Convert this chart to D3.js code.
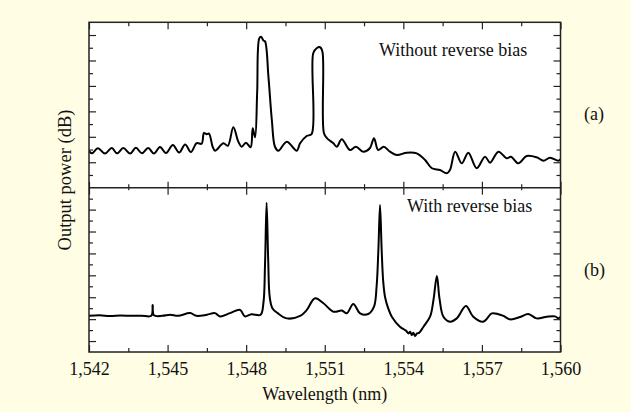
<!DOCTYPE html>
<html>
<head>
<meta charset="utf-8">
<script src="https://cdn.jsdelivr.net/npm/d3@7"></script>
<style>
  body { margin: 0; background: #fffde3; }
  svg { display: block; }
  text { font-family: "Liberation Serif", "Times New Roman", serif; fill: #111; }
</style>
</head>
<body>
<svg id="chart"></svg>
<script>
// wavelength ticks (nm)
const xMajor = [1542, 1545, 1548, 1551, 1554, 1557, 1560];
const xMinor = [1543.5, 1546.5, 1549.5, 1552.5, 1555.5, 1558.5];

// y ticks, arbitrary dB units (no labels on the original)
const yTopMajor = [2, 4, 6, 8, 10, 12];
const yTopMinor = [1, 3, 5, 7, 9, 11];
const yBotMajor = [1, 3, 5, 7, 9, 11, 13];
const yBotMinor = [2, 4, 6, 8, 10, 12, 14];

// (a) without reverse bias
const topWl = [1542.00, 1542.11, 1542.34, 1542.61, 1542.87, 1543.07, 1543.31, 1543.57, 1543.79, 1544.02,
  1544.26, 1544.48, 1544.71, 1544.94, 1545.20, 1545.44, 1545.67, 1545.89, 1546.11, 1546.30,
  1546.39, 1546.49, 1546.58, 1546.72, 1546.81, 1547.13, 1547.30, 1547.51, 1547.70, 1547.83,
  1547.99, 1548.17, 1548.25, 1548.34, 1548.42, 1548.50, 1548.57, 1548.66, 1548.72, 1548.85,
  1548.98, 1549.10, 1549.23, 1549.55, 1549.93, 1550.06, 1550.31, 1550.50, 1550.56, 1550.69,
  1550.82, 1550.91, 1550.97, 1551.09, 1551.33, 1551.46, 1551.65, 1551.96, 1552.19, 1552.47,
  1552.72, 1552.88, 1553.04, 1553.25, 1553.49, 1553.75, 1554.13, 1554.51, 1554.83, 1555.09,
  1555.40, 1555.66, 1555.78, 1555.98, 1556.23, 1556.48, 1556.80, 1557.12, 1557.31, 1557.63,
  1557.95, 1558.11, 1558.39, 1558.71, 1559.09, 1559.35, 1559.60, 1559.92, 1560.00];
const topDb = [2.90, 2.70, 3.10, 2.68, 3.12, 2.70, 3.12, 2.68, 3.14, 2.70,
  3.12, 2.68, 3.20, 2.72, 3.36, 2.76, 3.40, 2.80, 3.50, 3.45,
  4.30, 4.20, 4.25, 3.22, 2.91, 3.49, 3.30, 4.75, 3.62, 3.22,
  3.54, 3.18, 4.67, 3.96, 7.50, 11.74, 11.87, 11.56, 11.50, 8.73,
  5.32, 3.22, 2.91, 3.62, 2.91, 3.49, 4.06, 4.22, 10.57, 10.96,
  11.04, 10.70, 4.28, 3.88, 3.49, 3.22, 3.81, 2.96, 3.22, 2.83,
  3.10, 3.88, 2.96, 3.22, 2.83, 2.57, 2.75, 2.70, 2.18, 1.53,
  1.39, 1.13, 1.39, 2.83, 1.92, 2.75, 1.53, 2.44, 1.97, 2.83,
  2.31, 2.44, 1.92, 2.49, 2.39, 2.12, 2.36, 2.12, 2.25];

// (b) with reverse bias
const botWl = [1542.00, 1542.40, 1542.80, 1543.20, 1543.60, 1544.00, 1544.38, 1544.43, 1544.48, 1544.80,
  1545.10, 1545.40, 1545.86, 1546.10, 1546.50, 1546.81, 1547.00, 1547.38, 1547.77, 1547.95,
  1548.20, 1548.55, 1548.66, 1548.72, 1548.78, 1548.84, 1548.90, 1549.00, 1549.20, 1549.55,
  1550.06, 1550.30, 1550.63, 1550.95, 1551.33, 1551.65, 1551.84, 1552.09, 1552.35, 1552.66,
  1552.88, 1552.98, 1553.05, 1553.11, 1553.17, 1553.23, 1553.30, 1553.42, 1553.56, 1553.87,
  1554.10, 1554.20, 1554.26, 1554.32, 1554.38, 1554.45, 1554.52, 1554.60, 1554.77, 1555.02,
  1555.15, 1555.28, 1555.38, 1555.53, 1555.78, 1556.04, 1556.39, 1556.67, 1557.05, 1557.38,
  1557.63, 1557.82, 1558.08, 1558.46, 1558.77, 1559.09, 1559.48, 1559.79, 1559.92, 1560.00];
const botDb = [3.30, 3.35, 3.28, 3.33, 3.30, 3.32, 3.30, 4.29, 3.35, 3.30,
  3.40, 3.30, 3.55, 3.30, 3.40, 3.55, 3.25, 3.55, 3.84, 3.25,
  3.45, 3.40, 4.50, 8.00, 13.63, 8.50, 5.00, 4.00, 3.55, 3.07,
  3.29, 3.80, 4.90, 4.45, 3.68, 3.78, 3.53, 4.38, 3.53, 3.47,
  4.14, 6.00, 9.50, 13.42, 9.50, 6.50, 5.05, 4.00, 3.22, 2.31,
  1.95, 1.70, 1.85, 1.55, 1.75, 1.45, 1.70, 1.75, 2.31, 3.22,
  4.75, 6.94, 4.90, 3.22, 2.77, 3.07, 4.20, 3.22, 2.77, 3.53,
  3.45, 3.30, 2.98, 3.20, 3.47, 3.07, 3.22, 3.25, 3.07, 3.20];

const width = 631, height = 412;
const frameLeft = 89, frameRight = 560.5, frameTop = 22.3, frameMid = 187.7, frameBottom = 352;

const svg = d3.select('#chart').attr('width', width).attr('height', height);

const x = d3.scaleLinear().domain([1542, 1560]).range([frameLeft, frameRight]);
const yTop = d3.scaleLinear().domain([0, 13]).range([frameMid, frameTop]);
const yBot = d3.scaleLinear().domain([0, 15]).range([frameBottom, frameMid]);

// plot area
svg.append('rect')
    .attr('x', frameLeft).attr('y', frameTop)
    .attr('width', frameRight - frameLeft).attr('height', frameBottom - frameTop)
    .attr('fill', '#fff');

svg.append('clipPath').attr('id', 'clip')
    .append('rect')
    .attr('x', frameLeft).attr('y', frameTop)
    .attr('width', frameRight - frameLeft).attr('height', frameBottom - frameTop);

// traces
const curve = d3.curveCatmullRom.alpha(0.5);
const lineTop = d3.line().x(d => x(d[0])).y(d => yTop(d[1])).curve(curve);
const lineBot = d3.line().x(d => x(d[0])).y(d => yBot(d[1])).curve(curve);

svg.append('path')
    .datum(topWl.map((w, i) => [w, topDb[i]]))
    .attr('clip-path', 'url(#clip)')
    .attr('fill', 'none').attr('stroke', '#000').attr('stroke-width', 2)
    .attr('stroke-linejoin', 'round')
    .attr('d', lineTop);

svg.append('path')
    .datum(botWl.map((w, i) => [w, botDb[i]]))
    .attr('clip-path', 'url(#clip)')
    .attr('fill', 'none').attr('stroke', '#000').attr('stroke-width', 2)
    .attr('stroke-linejoin', 'round')
    .attr('d', lineBot);

// ticks, all pointing inward
function ticks(axis, values, size, at, labels) {
    const g = svg.append('g')
        .attr('transform', at)
        .call(axis.tickValues(values).tickSize(-size).tickPadding(10)
            .tickFormat(labels ? d3.format(',') : ''));
    g.attr('color', '#222').attr('font-size', 18).attr('font-family', null);
    g.select('.domain').remove();
    g.selectAll('line').attr('stroke-width', 1.2);
    return g;
}

ticks(d3.axisBottom(x), xMajor, 7, `translate(0,${frameBottom})`, true);
ticks(d3.axisBottom(x), xMinor, 4, `translate(0,${frameBottom})`, false);
ticks(d3.axisTop(x), xMajor, 7, `translate(0,${frameTop})`, false);
ticks(d3.axisTop(x), xMinor, 4, `translate(0,${frameTop})`, false);
ticks(d3.axisBottom(x), xMajor, 6, `translate(0,${frameMid})`, false);
ticks(d3.axisBottom(x), xMinor, 3.5, `translate(0,${frameMid})`, false);
ticks(d3.axisTop(x), xMajor, 7, `translate(0,${frameMid})`, false);
ticks(d3.axisTop(x), xMinor, 2.5, `translate(0,${frameMid})`, false);

ticks(d3.axisLeft(yTop), yTopMajor, 7, `translate(${frameLeft},0)`, false);
ticks(d3.axisLeft(yTop), yTopMinor, 4, `translate(${frameLeft},0)`, false);
ticks(d3.axisRight(yTop), yTopMajor, 7, `translate(${frameRight},0)`, false);
ticks(d3.axisRight(yTop), yTopMinor, 4, `translate(${frameRight},0)`, false);
ticks(d3.axisLeft(yBot), yBotMajor, 7, `translate(${frameLeft},0)`, false);
ticks(d3.axisLeft(yBot), yBotMinor, 4, `translate(${frameLeft},0)`, false);
ticks(d3.axisRight(yBot), yBotMajor, 7, `translate(${frameRight},0)`, false);
ticks(d3.axisRight(yBot), yBotMinor, 4, `translate(${frameRight},0)`, false);

// frame and divider
svg.append('rect')
    .attr('x', frameLeft).attr('y', frameTop)
    .attr('width', frameRight - frameLeft).attr('height', frameBottom - frameTop)
    .attr('fill', 'none').attr('stroke', '#222').attr('stroke-width', 1.5);
svg.append('line')
    .attr('x1', frameLeft).attr('x2', frameRight).attr('y1', frameMid).attr('y2', frameMid)
    .attr('stroke', '#222').attr('stroke-width', 1.5);

// labels
svg.append('text').attr('x', 379).attr('y', 55.5).attr('font-size', 18).text('Without reverse bias');
svg.append('text').attr('x', 407).attr('y', 212).attr('font-size', 18).text('With reverse bias');
svg.append('text').attr('x', 584).attr('y', 120).attr('font-size', 18).text('(a)');
svg.append('text').attr('x', 584).attr('y', 276).attr('font-size', 18).text('(b)');

svg.append('text')
    .attr('x', (frameLeft + frameRight) / 2).attr('y', 400)
    .attr('font-size', 18)
    .style('text-anchor', 'middle')
    .text('Wavelength (nm)');

svg.append('text')
    .attr('transform', 'rotate(-90)')
    .attr('x', -180).attr('y', 71)
    .attr('font-size', 18.5)
    .style('text-anchor', 'middle')
    .text('Output power (dB)');
</script>
</body>
</html>
